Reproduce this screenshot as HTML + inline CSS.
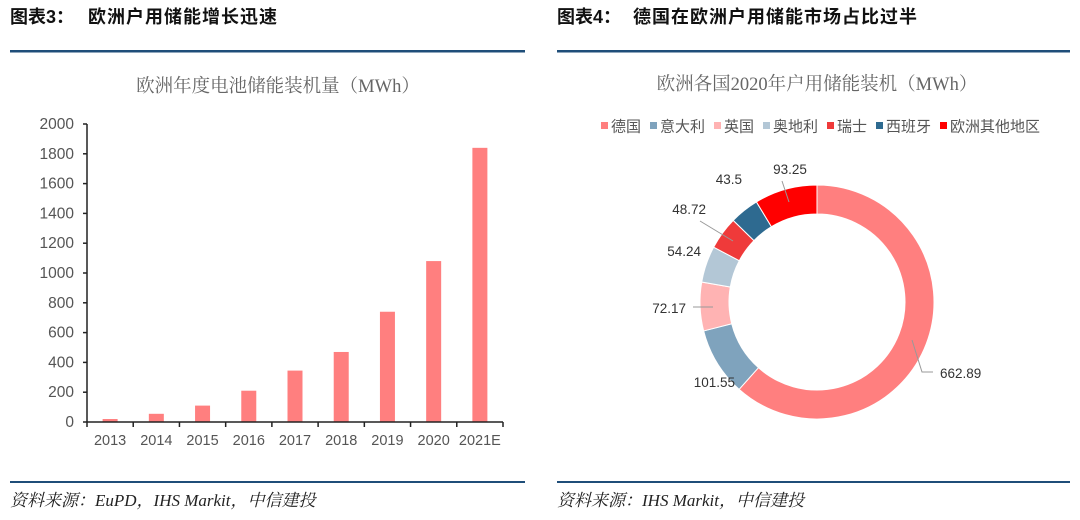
<!DOCTYPE html>
<html><head><meta charset="utf-8"><style>
body{margin:0;width:1080px;height:515px;background:#fff;overflow:hidden;font-family:"Liberation Sans","Noto Sans CJK SC",sans-serif}
svg text{font-family:"Liberation Sans","Noto Sans CJK SC",sans-serif}
</style></head><body>
<svg width="1080" height="515">
<text x="10" y="23" font-size="18" font-weight="bold" fill="#111">图表3：</text>
<text x="88" y="23" font-size="18" font-weight="bold" fill="#111" letter-spacing="1">欧洲户用储能增长迅速</text>
<text x="557" y="23" font-size="18" font-weight="bold" fill="#111">图表4：</text>
<text x="633" y="23" font-size="18" font-weight="bold" fill="#111" letter-spacing="1">德国在欧洲户用储能市场占比过半</text>
<rect x="10" y="50" width="515" height="2.5" fill="#1f4e79"/>
<rect x="557" y="50" width="513" height="2.5" fill="#1f4e79"/>
<rect x="10" y="481" width="515" height="2" fill="#1f4e79"/>
<rect x="557" y="481" width="513" height="2" fill="#1f4e79"/>
<text x="10" y="506" font-size="17" font-style="italic" fill="#222" style="font-family:'Liberation Serif','Noto Serif CJK SC',serif">资料来源：EuPD，IHS Markit，中信建投</text>
<text x="557" y="506" font-size="17" font-style="italic" fill="#222" style="font-family:'Liberation Serif','Noto Serif CJK SC',serif">资料来源：IHS Markit，中信建投</text>
<text x="278" y="92" font-size="18.5" fill="#666" text-anchor="middle" style="font-family:'Liberation Serif','Noto Serif CJK SC',serif">欧洲年度电池储能装机量（MWh）</text>
<text x="817" y="90" font-size="18.5" fill="#666" text-anchor="middle" style="font-family:'Liberation Serif','Noto Serif CJK SC',serif">欧洲各国2020年户用储能装机（MWh）</text>
<g id="bars"></g>
<g id="donut"></g>
<g id="legend"></g>
</svg>
<script>
const years=["2013","2014","2015","2016","2017","2018","2019","2020","2021E"];
const capacity=[20,55,110,210,345,470,740,1080,1840];
const yTicks=[0,200,400,600,800,1000,1200,1400,1600,1800,2000];
const countries=["德国","意大利","英国","奥地利","瑞士","西班牙","欧洲其他地区"];
const installs=[662.89,101.55,72.17,54.24,48.72,43.5,93.25];
const colors=["#ff7f7f","#7fa3bd","#ffb3b3","#b3c7d6","#ef3a3a","#2e6a90","#ff0000"];
const NS="http://www.w3.org/2000/svg";
function mk(p,t,a){const e=document.createElementNS(NS,t);for(const k in a)e.setAttribute(k,a[k]);p.appendChild(e);return e;}
const bars=document.getElementById('bars');
const x0=87,x1=503,y0=422,y1=124;
const band=(x1-x0)/years.length;
const yS=v=>y0-(v/2000)*(y0-y1);
const xS=i=>x0+band*(i+0.5);
years.forEach((yr,i)=>{
 const b=mk(bars,'rect',{x:xS(i)-7.5,y:yS(capacity[i]),width:15,height:y0-yS(capacity[i]),fill:'#ff7f7f'});
 
 
 const t=mk(bars,'text',{x:xS(i),y:y0+23,'font-size':14.5,fill:'#555','text-anchor':'middle'});
 t.textContent=yr;
 
 
});
for(let i=0;i<=years.length;i++){mk(bars,'line',{x1:x0+band*i,x2:x0+band*i,y1:y0,y2:y0+5,stroke:'#222','stroke-width':1.5});}
yTicks.forEach(v=>{
 mk(bars,'line',{x1:x0-4,x2:x0,y1:yS(v),y2:yS(v),stroke:'#222','stroke-width':1.5});
 const t=mk(bars,'text',{x:x0-13,y:yS(v)+5,'font-size':15.5,fill:'#555','text-anchor':'end'});
 t.textContent=v;
 
 
});
const ya=mk(bars,'line',{x1:x0,x2:x0,y1:y1,y2:y0,stroke:'#222','stroke-width':1.5});


const xa=mk(bars,'line',{x1:x0,x2:x1,y1:y0,y2:y0,stroke:'#222','stroke-width':1.5});


const dn=document.getElementById('donut');
const cx=817,cy=302,R=117,r=88;
const total=installs.reduce((a,b)=>a+b,0);
let ang=0;
const pt=(a,rad)=>[cx+rad*Math.sin(a),cy-rad*Math.cos(a)];
const labelPos=[[940,378,'start'],[735,387,'end'],[686,313,'end'],[701,256,'end'],[706,214,'end'],[742,184,'end'],[790,174,'middle']];
installs.forEach((v,i)=>{
 const a0=ang,a1=ang+v/total*2*Math.PI;ang=a1;
 const lg=(a1-a0)>Math.PI?1:0;
 const [ox0,oy0]=pt(a0,R),[ox1,oy1]=pt(a1,R),[ix1,iy1]=pt(a1,r),[ix0,iy0]=pt(a0,r);
 const p=mk(dn,'path',{d:`M${ox0},${oy0}A${R},${R} 0 ${lg} 1 ${ox1},${oy1}L${ix1},${iy1}A${r},${r} 0 ${lg} 0 ${ix0},${iy0}Z`,fill:colors[i],stroke:'#fff','stroke-width':1});
 
 
 const [lx,ly,an]=labelPos[i];
 const t=mk(dn,'text',{x:lx,y:ly,'font-size':13.5,fill:'#333','text-anchor':an});
 t.textContent=v;
 
 
});
mk(dn,'polyline',{points:'912,340 922,372 933,372',fill:'none',stroke:'#999'});
mk(dn,'line',{x1:693,y1:307,x2:713,y2:307,stroke:'#999'});
mk(dn,'line',{x1:700,y1:221,x2:733,y2:241,stroke:'#999'});
mk(dn,'line',{x1:782,y1:181,x2:789,y2:202,stroke:'#999'});
const lgG=document.getElementById('legend');
let lx=601;
countries.forEach((c,i)=>{
 const s=mk(lgG,'rect',{x:lx,y:122,width:7,height:7,fill:colors[i]});
 
 
 const t=mk(lgG,'text',{x:lx+10,y:131.5,'font-size':15,fill:'#555'});
 t.textContent=c;
 
 
 lx+=10+c.length*15+9;
});
</script>
</body></html>
